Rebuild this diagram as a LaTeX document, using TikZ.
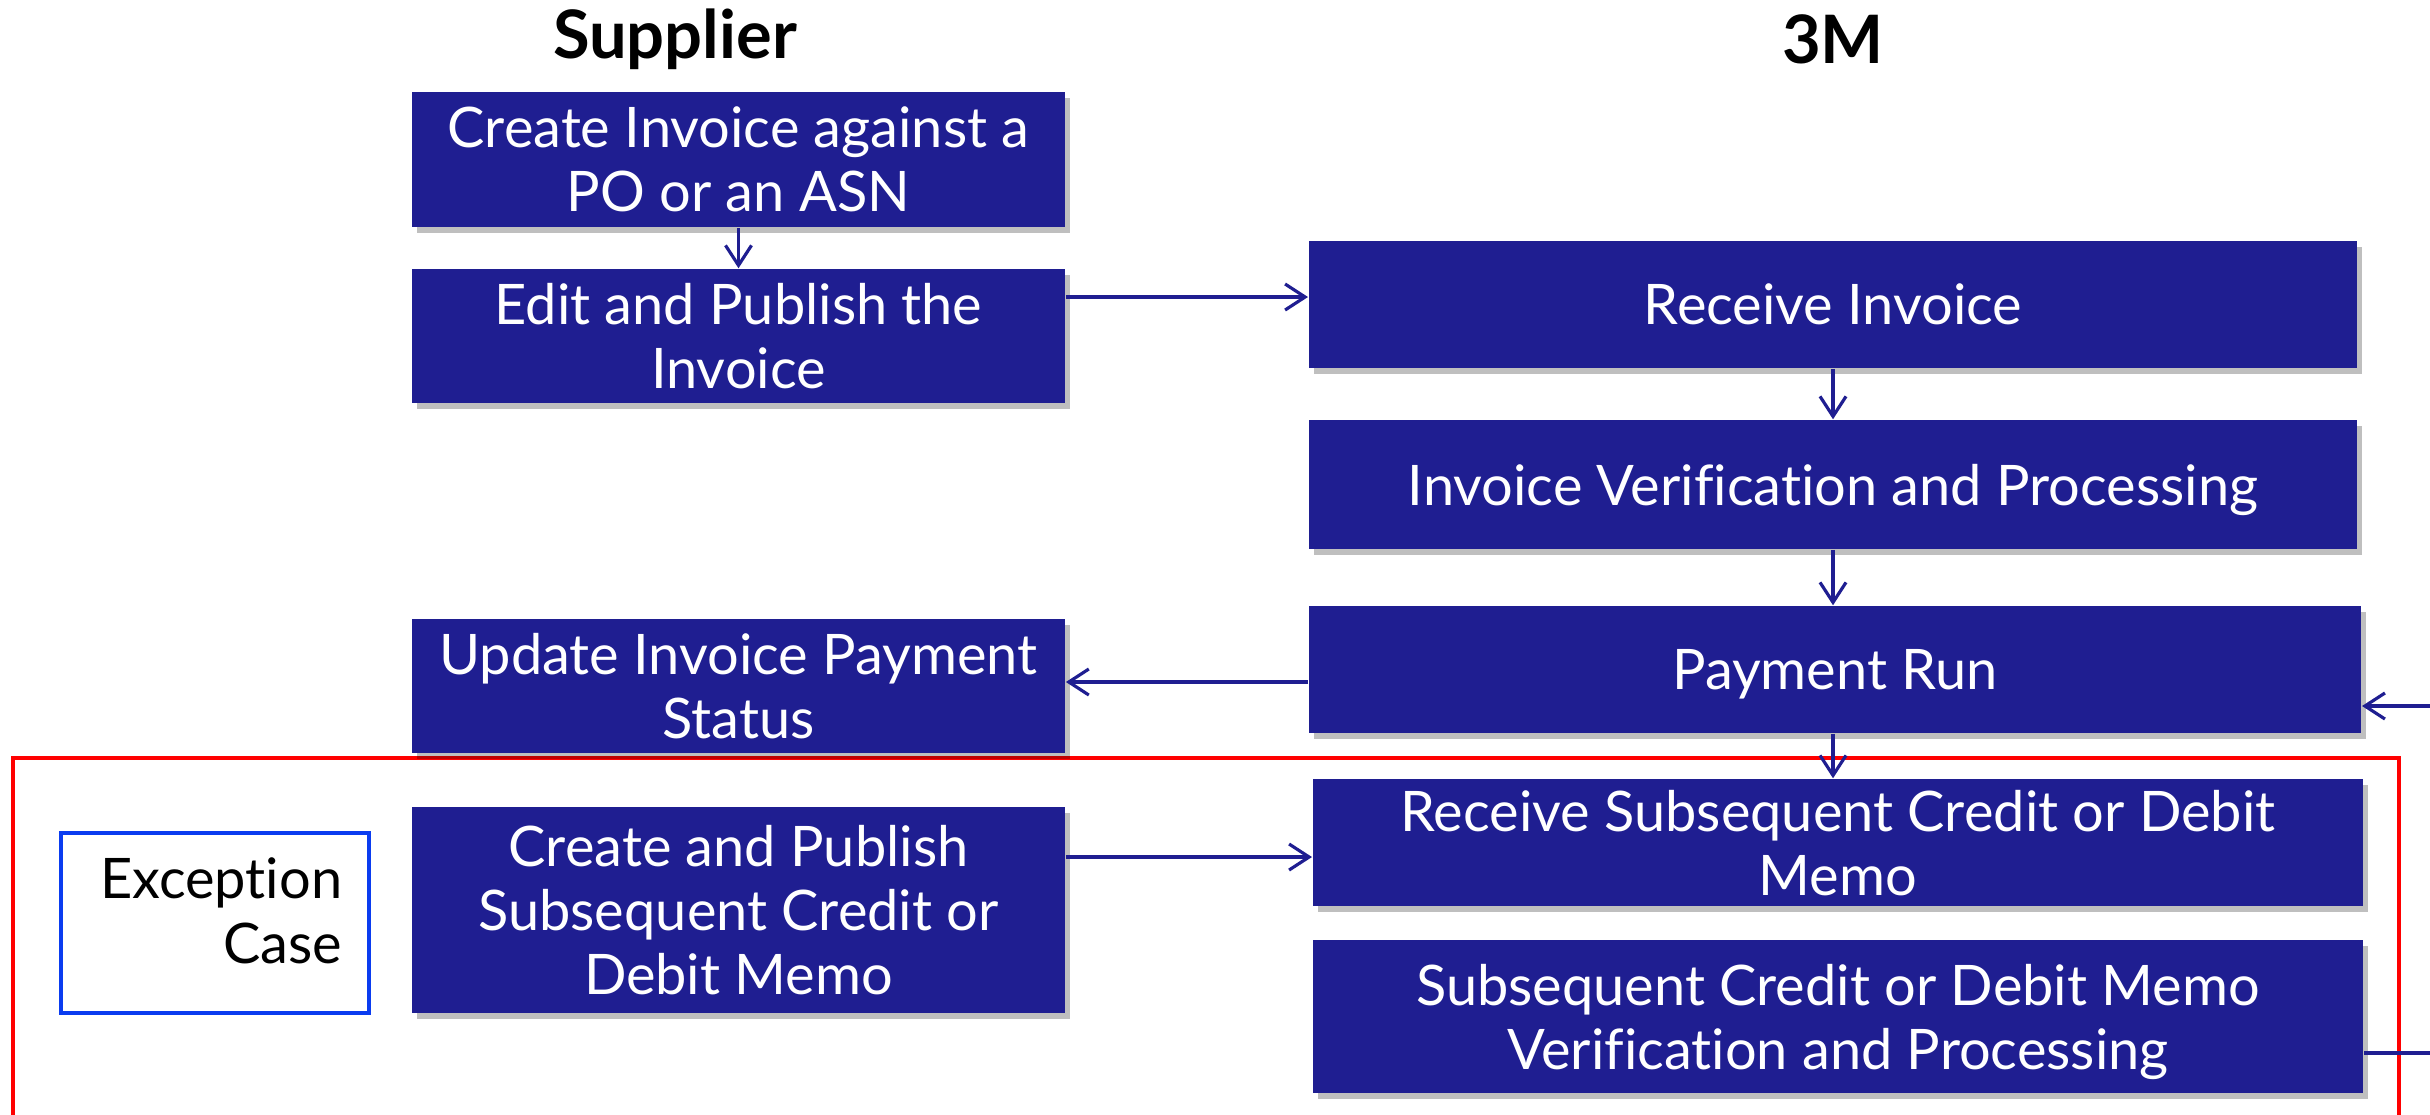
\documentclass[tikz,border=0pt]{standalone}
\usepackage{fontspec}
\setmainfont{Lato}[Ligatures=NoCommon]
\usetikzlibrary{arrows.meta,shadows}
\definecolor{boxblue}{RGB}{31,30,145}
\definecolor{frameblue}{RGB}{10,60,240}
\begin{document}
\begin{tikzpicture}[x=0.01cm,y=-0.01cm,
  procbox/.style={rectangle,fill=boxblue,text=white,align=center,inner sep=0pt,
    font=\fontsize{15.9}{18.2}\selectfont,text depth=0pt,
    drop shadow={shadow xshift=0.5mm,shadow yshift=-0.6mm,opacity=0.25,fill=black}},
  titletext/.style={font=\fontsize{19}{22}\selectfont\bfseries,text=black},
  arr/.style={draw=boxblue,line width=0.9pt,-{Straight Barb[length=2mm,width=2.6mm,line width=0.9pt]}},
  plainline/.style={draw=boxblue,line width=0.9pt},
  redframe/.style={rectangle,draw=red,line width=1.1pt,inner sep=0pt},
  excbox/.style={rectangle,draw=frameblue,line width=1pt,inner sep=0pt},
  exctext/.style={font=\fontsize{15.9}{18.6}\selectfont,align=right,text width=2.66cm,inner sep=0pt,text=black}
]
\clip (0,0) rectangle (2430,1114);
\fill[white] (0,0) rectangle (2430,1114);

% titles
\node[titletext] (tsup) at (675,39) {Supplier};
\node[titletext] (tthree) at (1833,39) {3M};

% red exception frame
\node[redframe,minimum width=23.84cm,minimum height=4.4cm] (frame) at (1206,978) {};

% supplier column
\node[procbox,minimum width=6.53cm,minimum height=1.35cm] (create) at (738.5,159.5) {Create Invoice against a\\PO or an ASN};
\node[procbox,minimum width=6.53cm,minimum height=1.34cm] (edit) at (738.5,336) {Edit and Publish the\\Invoice};
\node[procbox,minimum width=6.53cm,minimum height=1.34cm] (update) at (738.5,686) {Update Invoice Payment\\Status};
\node[procbox,minimum width=6.53cm,minimum height=2.05cm] (cpub) at (738.5,910) {Create and Publish\\Subsequent Credit or\\Debit Memo};

% 3M column
\node[procbox,minimum width=10.48cm,minimum height=1.27cm] (recv) at (1833,304.5) {Receive Invoice};
\node[procbox,minimum width=10.48cm,minimum height=1.29cm] (verif) at (1833,484.5) {Invoice Verification and Processing};
\node[procbox,minimum width=10.52cm,minimum height=1.27cm] (pay) at (1835,669.5) {Payment Run};
\node[procbox,minimum width=10.50cm,minimum height=1.27cm] (rsub) at (1838,842.5) {Receive Subsequent Credit or Debit\\Memo};
\node[procbox,minimum width=10.50cm,minimum height=1.53cm] (vsub) at (1838,1016.5) {Subsequent Credit or Debit Memo\\Verification and Processing};

% exception label
\node[excbox,minimum width=3.08cm,minimum height=1.80cm] (exc) at (215,923) {};
\node[exctext,anchor=east] (exclabel) at ([xshift=-0.28cm,yshift=0.12cm]exc.east) {Exception\\Case};

% helper coordinates
\coordinate (yA) at (0,297);
\coordinate (yB) at (0,682);
\coordinate (yC) at (0,857);
\coordinate (inR) at (2450,706);
\coordinate (outR) at (2450,1053);

% connectors
\draw[arr] (create.south) -- (edit.north);
\draw[arr] (edit.east |- yA) -- (recv.west |- yA);
\draw[arr] (recv.south) -- (verif.north);
\draw[arr] (verif.south) -- (verif.south |- pay.north);
\draw[arr] (pay.west |- yB) -- (update.east |- yB);
\draw[arr] (verif.south |- pay.south) -- (verif.south |- rsub.north);
\draw[arr] (cpub.east |- yC) -- (rsub.west |- yC);
\draw[arr] (inR) -- (pay.east |- inR);
\draw[plainline] (vsub.east |- outR) -- (outR);
\end{tikzpicture}
\end{document}
